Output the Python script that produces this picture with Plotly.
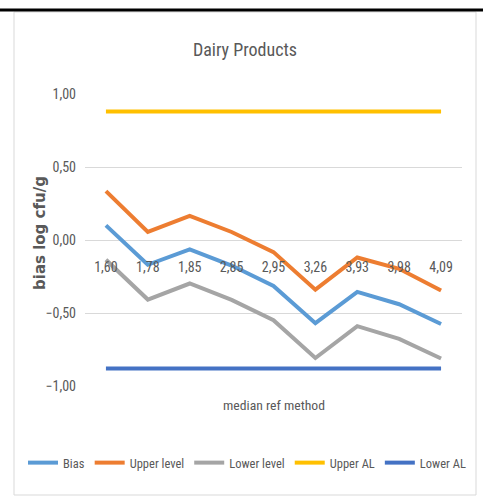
import plotly.graph_objects as go

categories = ["1,60", "1,78", "1,85", "2,85", "2,95", "3,26", "3,93", "3,98", "4,09"]
bias = [0.10, -0.17, -0.065, -0.175, -0.315, -0.57, -0.355, -0.44, -0.575]
upper_level = [0.335, 0.055, 0.165, 0.055, -0.083, -0.34, -0.12, -0.197, -0.346]
lower_level = [-0.135, -0.408, -0.298, -0.41, -0.549, -0.808, -0.59, -0.677, -0.812]
upper_al = [0.88] * 9
lower_al = [-0.88] * 9

series = [
    ("Bias", bias, "#5B9BD5"),
    ("Upper level", upper_level, "#ED7D31"),
    ("Lower level", lower_level, "#A5A5A5"),
    ("Upper AL", upper_al, "#FFC000"),
    ("Lower AL", lower_al, "#4472C4"),
]

W, H = 483, 496
L, R, T, B = 85, 21, 94, 110
pw, ph = W - L - R, H - T - B


def px(x):
    return (x - L) / pw


def py(y):
    return (H - B - y) / ph


FONT = "Roboto Condensed, Liberation Sans, sans-serif"
GRAY = "#595959"

fig = go.Figure()
for name, vals, col in series:
    fig.add_trace(go.Scatter(
        x=categories, y=vals, name=name, mode="lines",
        line=dict(color=col, width=4),
    ))

fig.update_layout(
    width=W, height=H,
    margin=dict(l=L, r=R, t=T, b=B, autoexpand=False),
    paper_bgcolor="white", plot_bgcolor="white",
    separators=",.",
    showlegend=True,
    font=dict(family=FONT, color=GRAY, size=13),
    title=dict(text="Dairy Products", x=245 / W, y=1 - 50 / H,
               xanchor="center", yanchor="middle",
               font=dict(family=FONT, size=18, color=GRAY)),
    xaxis=dict(type="category", range=[-0.5, 8.5], showgrid=False,
               showline=False, zeroline=False, ticks="",
               anchor="free", position=py(257), automargin=False,
               tickfont=dict(family=FONT, size=14, color=GRAY)),
    yaxis=dict(range=[-1, 1], dtick=0.5, tick0=0, tickformat=".2f",
               showgrid=True, gridcolor="#D9D9D9", gridwidth=1,
               zeroline=False, showline=False, ticks="",
               ticklabelstandoff=8, automargin=False,
               tickfont=dict(family=FONT, size=14, color=GRAY)),
    legend=dict(orientation="h", x=px(23), xanchor="left",
                y=py(463), yanchor="middle",
                font=dict(family=FONT, size=12.5, color=GRAY),
                itemwidth=30, tracegroupgap=0),
)

fig.add_annotation(text="median ref method", x=px(274), y=py(405),
                   xref="paper", yref="paper", showarrow=False,
                   xanchor="center", yanchor="middle",
                   font=dict(family=FONT, size=13.7, color=GRAY))
fig.add_annotation(text="<b>bias log cfu/g</b>", x=px(40), y=py(233),
                   xref="paper", yref="paper", showarrow=False,
                   textangle=-90, xanchor="center", yanchor="middle",
                   font=dict(family="DejaVu Sans, sans-serif", size=15, color=GRAY))

# chart frame and top rule
fig.add_shape(type="rect", xref="paper", yref="paper",
              x0=px(14), x1=px(476), y0=py(495), y1=py(12),
              line=dict(color="#D9D9D9", width=1), layer="below")
fig.add_shape(type="line", xref="paper", yref="paper",
              x0=px(0), x1=px(483), y0=py(10), y1=py(10),
              line=dict(color="black", width=3))

fig.write_html("out.html", config={"displayModeBar": False},
               post_script="document.body.style.margin='0';")
